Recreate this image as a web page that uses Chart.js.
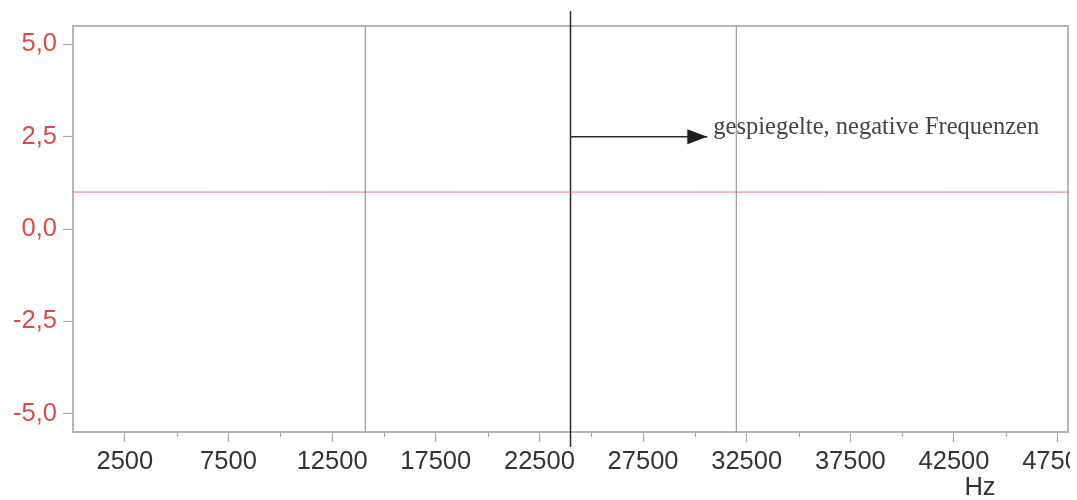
<!DOCTYPE html>
<html>
<head>
<meta charset="utf-8">
<script src="https://cdn.jsdelivr.net/npm/chart.js@4/dist/chart.umd.min.js"></script>
<style>
  html, body { margin: 0; padding: 0; background: #ffffff; }
  #wrap { width: 1070px; height: 500px; }
</style>
</head>
<body>
<div id="wrap"><canvas id="c" width="1070" height="500"></canvas></div>
<script>
// Axis ranges (Hz on x, amplitude on y)
const freqRange = [0, 48000];
const ampRange = [-5.5, 5.5];

// Labelled and unlabelled tick positions
const xTickValues = [2500, 7500, 12500, 17500, 22500, 27500, 32500, 37500, 42500, 47500];
const xMinorTicks = [5000, 10000, 15000, 20000, 25000, 30000, 35000, 40000, 45000];
const yTickValues = [-5, -2.5, 0, 2.5, 5];

// Constant level line
const levelFreqs = [0, 48000];
const levelValues = [1, 1];

// Marker lines
const markerFreqs = [14100, 32000];
const mirrorFreq = 24000;
const mirrorSpan = [-5.9, 5.9];

// Arrow towards the mirrored band
const arrowFreqs = [24000, 30600];
const arrowValues = [2.5, 2.5];
const arrowText = 'gespiegelte, negative Frequenzen';
const unitText = 'Hz';

const sansFont = "'Liberation Sans', Arial, sans-serif";
const serifFont = "'Liberation Serif', 'Times New Roman', serif";

function pts(xs, ys) { return xs.map((x, i) => ({ x: x, y: ys[i] })); }

const datasets = [
  {
    data: pts(levelFreqs, levelValues),
    borderColor: 'rgba(224,100,100,0.85)', borderWidth: 1,
    showLine: true, pointRadius: 0
  }
];
markerFreqs.forEach(f => datasets.push({
  data: pts([f, f], ampRange),
  borderColor: '#9a9a9a', borderWidth: 1.2,
  showLine: true, pointRadius: 0
}));
datasets.push({
  data: pts([mirrorFreq, mirrorFreq], mirrorSpan),
  borderColor: '#2a2a2a', borderWidth: 1.5,
  showLine: true, pointRadius: 0, clip: false
});
datasets.push({
  data: pts(arrowFreqs, arrowValues),
  borderColor: '#2a2a2a', borderWidth: 1.5,
  showLine: true, pointRadius: 0
});

const decor = {
  id: 'decor',
  beforeDatasetsDraw(chart) {
    const { ctx, chartArea: a } = chart;
    ctx.save();
    ctx.strokeStyle = '#b5b5b5';
    ctx.lineWidth = 2;
    ctx.strokeRect(a.left, a.top, a.right - a.left, a.bottom - a.top);
    // unlabelled x ticks
    const xs = chart.scales.x;
    ctx.strokeStyle = '#a8a8a8';
    ctx.lineWidth = 1.2;
    xMinorTicks.forEach(v => {
      const px = Math.round(xs.getPixelForValue(v)) + 0.5;
      ctx.beginPath();
      ctx.moveTo(px, a.bottom);
      ctx.lineTo(px, a.bottom + 5);
      ctx.stroke();
    });
    ctx.restore();
  },
  afterDatasetsDraw(chart) {
    const { ctx, chartArea: a } = chart;
    const xs = chart.scales.x, ys = chart.scales.y;
    ctx.save();
    // arrow head at the end of the arrow line
    const n = arrowFreqs.length - 1;
    const tipX = xs.getPixelForValue(arrowFreqs[n]);
    const tipY = ys.getPixelForValue(arrowValues[n]);
    ctx.fillStyle = '#1e1e1e';
    ctx.beginPath();
    ctx.moveTo(tipX, tipY);
    ctx.lineTo(tipX - 20, tipY - 7.5);
    ctx.lineTo(tipX - 20, tipY + 7.5);
    ctx.closePath();
    ctx.fill();
    // annotation text
    ctx.fillStyle = '#444444';
    ctx.font = '24.5px ' + serifFont;
    ctx.textAlign = 'left';
    ctx.textBaseline = 'alphabetic';
    ctx.fillText(arrowText, tipX + 6, tipY - 3);
    // unit label below the axis
    ctx.fillStyle = '#333333';
    ctx.font = '25.5px ' + sansFont;
    ctx.textAlign = 'center';
    ctx.textBaseline = 'middle';
    ctx.fillText(unitText, a.right - 88, 488);
    ctx.restore();
  }
};

new Chart(document.getElementById('c'), {
  type: 'scatter',
  data: { datasets: datasets },
  options: {
    responsive: false,
    animation: false,
    events: [],
    layout: { padding: { top: 26, right: 2, left: 0, bottom: 0 }, autoPadding: false },
    plugins: { legend: { display: false }, tooltip: { enabled: false } },
    scales: {
      x: {
        type: 'linear', min: freqRange[0], max: freqRange[1],
        afterBuildTicks: s => { s.ticks = xTickValues.map(v => ({ value: v })); },
        afterFit: s => { s.height = 68; s.paddingLeft = 0; s.paddingRight = 0; },
        ticks: {
          autoSkip: false, maxRotation: 0, padding: 5,
          color: '#333333', font: { family: sansFont, size: 25.5 },
          callback: v => String(v)
        },
        grid: { drawOnChartArea: false, tickLength: 10, tickColor: '#a8a8a8', tickWidth: 1.2 },
        border: { display: false }
      },
      y: {
        type: 'linear', min: ampRange[0], max: ampRange[1],
        afterBuildTicks: s => { s.ticks = yTickValues.map(v => ({ value: v })); },
        afterFit: s => { s.width = 73; s.paddingTop = 0; s.paddingBottom = 0; },
        ticks: {
          padding: 6,
          color: '#dc4b4b', font: { family: sansFont, size: 25.5 },
          callback: v => v.toFixed(1).replace('.', ',')
        },
        grid: { drawOnChartArea: false, tickLength: 10, tickColor: '#a8a8a8', tickWidth: 1.2 },
        border: { display: false }
      }
    }
  },
  plugins: [decor]
});
</script>
</body>
</html>
